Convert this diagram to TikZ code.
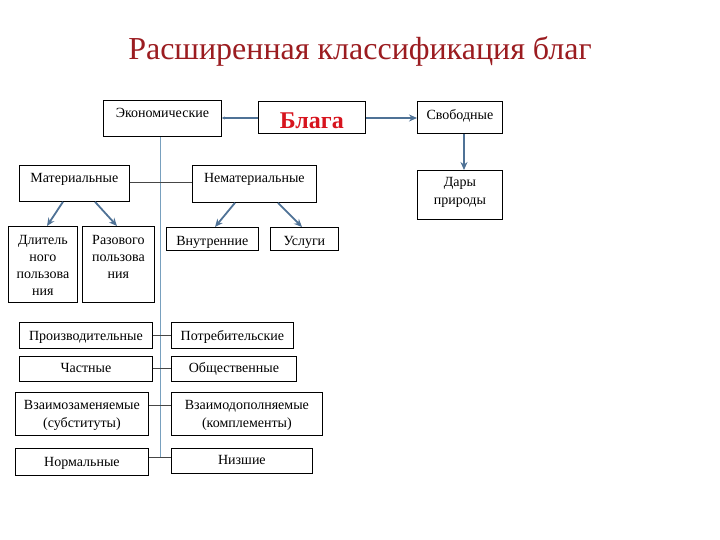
\documentclass[tikz,border=0pt]{standalone}
\usepackage{fontspec}
\setmainfont{Liberation Serif}
\usetikzlibrary{arrows.meta}
\definecolor{titlered}{RGB}{155,28,32}
\definecolor{blagared}{RGB}{215,20,30}
\definecolor{arrowblue}{RGB}{79,114,150}
\definecolor{trunkblue}{RGB}{120,160,190}
\definecolor{linegray}{RGB}{70,70,70}
% #1 width, #2 height, #3 first baseline offset, #4 text
\newcommand\gbtext[4]{\parbox[c][#2][t]{#1}{\centering\baselineskip=17pt\rule{0pt}{#3}#4\par}}
\begin{document}
\begin{tikzpicture}[x=1pt,y=-1pt,
  gbox/.style={draw=black, line width=0.8pt, inner sep=0pt, anchor=north west, font=\fontsize{14}{17}\selectfont},
  blarrow/.style={draw=arrowblue, line width=1.8pt, -{Stealth[length=8pt,width=7pt]}},
  trunkline/.style={draw=trunkblue, line width=1pt},
  hline/.style={draw=linegray, line width=0.9pt}]
\useasboundingbox (0,0) rectangle (720,540);

\node[font=\fontsize{32}{36}\selectfont, text=titlered] (title) at (360,51) {Расширенная классификация благ};

\node[gbox] (eco) at (103,100) {\gbtext{118pt}{36pt}{17pt}{Экономические}};
\node[gbox] (blaga) at (258,101) {\gbtext{107pt}{32pt}{27pt}{\fontsize{24}{26}\selectfont\bfseries\color{blagared}Блага}};
\node[gbox] (svob) at (417,101) {\gbtext{85pt}{32pt}{18pt}{Свободные}};
\node[gbox] (dary) at (417,170) {\gbtext{85pt}{49pt}{16pt}{\baselineskip=18pt Дары\\природы}};

\node[gbox] (mat) at (19,165) {\gbtext{110pt}{36pt}{17pt}{Материальные}};
\node[gbox] (nemat) at (192,165) {\gbtext{124pt}{37pt}{17pt}{Нематериальные}};

\node[gbox] (dlit) at (8,226) {\gbtext{69pt}{76pt}{18pt}{Длитель\\ного\\пользова\\ния}};
\node[gbox] (raz) at (82,226) {\gbtext{72pt}{76pt}{18pt}{Разового\\пользова\\ния}};
\node[gbox] (vnutr) at (166,227) {\gbtext{92pt}{23pt}{18pt}{Внутренние}};
\node[gbox] (usl) at (270,227) {\gbtext{68pt}{23pt}{18pt}{Услуги}};

\node[gbox] (proizv) at (19,322) {\gbtext{133pt}{26pt}{18pt}{Производительные}};
\node[gbox] (potreb) at (171,322) {\gbtext{122pt}{26pt}{18pt}{Потребительские}};
\node[gbox] (chast) at (19,356) {\gbtext{133pt}{25pt}{16pt}{Частные}};
\node[gbox] (obsh) at (171,356) {\gbtext{125pt}{25pt}{16pt}{Общественные}};
\node[gbox] (vzz) at (15,392) {\gbtext{133pt}{43pt}{17pt}{\baselineskip=18pt Взаимозаменяемые\\(субституты)}};
\node[gbox] (vzd) at (171,392) {\gbtext{151pt}{43pt}{17pt}{\baselineskip=18pt Взаимодополняемые\\(комплементы)}};
\node[gbox] (norm) at (15,448) {\gbtext{133pt}{27pt}{18pt}{Нормальные}};
\node[gbox] (nizh) at (171,448) {\gbtext{141pt}{25pt}{16pt}{Низшие}};

% connectors at the top
\draw[blarrow, -, {Stealth[length=3pt,width=3pt]}-] (eco.east |- 0,118) -- (blaga.west |- 0,118);
\draw[blarrow] (blaga.east |- 0,118) -- (svob.west |- 0,118);
\coordinate (sd) at (464,0);
\draw[blarrow] (svob.south -| sd) -- (dary.north -| sd);

% arrows to sub-boxes
\coordinate (m1) at (63,0);  \coordinate (m2) at (47,0);
\coordinate (m3) at (95,0);  \coordinate (m4) at (117,0);
\coordinate (n1) at (235,0); \coordinate (n2) at (215,0);
\coordinate (n3) at (278,0); \coordinate (n4) at (302,0);
\draw[blarrow] (mat.south -| m1) -- (dlit.north -| m2);
\draw[blarrow] (mat.south -| m3) -- (raz.north -| m4);
\draw[blarrow] (nemat.south -| n1) -- (vnutr.north -| n2);
\draw[blarrow] (nemat.south -| n3) -- (usl.north -| n4);

% trunk
\coordinate (tend) at (160,457);
\draw[trunkline] (eco.south -| tend) -- (tend);

% horizontal lines
\draw[hline] (mat.east |- 0,182) -- (nemat.west |- 0,182);
\draw[hline] (proizv.east |- 0,335) -- (potreb.west |- 0,335);
\draw[hline] (chast.east) -- (obsh.west);
\draw[hline] (vzz.east |- 0,405) -- (vzd.west |- 0,405);
\draw[hline] (norm.east |- tend) -- (nizh.west |- tend);
\end{tikzpicture}
\end{document}
